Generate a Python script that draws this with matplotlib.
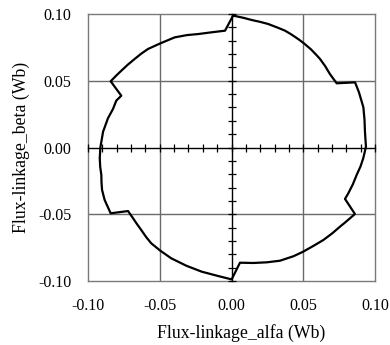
import matplotlib
matplotlib.use("Agg")
import matplotlib.pyplot as plt

# Flux trajectory (clockwise from the top)
flux_alfa = [0.0011, 0.0085, 0.0141, 0.0200, 0.0256, 0.0326, 0.0373, 0.0414, 0.0468,
             0.0505, 0.0554, 0.0597, 0.0617, 0.0653, 0.0686, 0.0733,
             0.0861, 0.0888, 0.0904, 0.0919, 0.0927, 0.0930, 0.0937, 0.0918, 0.0899,
             0.0872, 0.0846, 0.0814, 0.0791,
             0.0860, 0.0826, 0.0790, 0.0756, 0.0702, 0.0640, 0.0574, 0.0500, 0.0433,
             0.0338, 0.0247, 0.0152, 0.0059,
             0.0001, -0.0092, -0.0208, -0.0314, -0.0420, -0.0496, -0.0559, -0.0594,
             -0.0629, -0.0659, -0.0686, -0.0721,
             -0.0842, -0.0884, -0.0902, -0.0906, -0.0907, -0.0915, -0.0918, -0.0914,
             -0.0895, -0.0861, -0.0826, -0.0803, -0.0768,
             -0.0842, -0.0805, -0.0768, -0.0722, -0.0675, -0.0630, -0.0582, -0.0496,
             -0.0396, -0.0310, -0.0231, -0.0138, -0.0045, 0.0011]
flux_beta = [0.0988, 0.0971, 0.0955, 0.0941, 0.0925, 0.0896, 0.0875, 0.0849, 0.0810,
             0.0780, 0.0735, 0.0687, 0.0663, 0.0609, 0.0550, 0.0481,
             0.0488, 0.0414, 0.0356, 0.0301, 0.0206, 0.0118, 0.0006, -0.0081, -0.0142,
             -0.0206, -0.0275, -0.0343, -0.0385,
             -0.0498, -0.0530, -0.0563, -0.0593, -0.0643, -0.0693, -0.0735, -0.0780,
             -0.0814, -0.0848, -0.0860, -0.0865, -0.0863,
             -0.0988, -0.0963, -0.0930, -0.0886, -0.0830, -0.0773, -0.0718, -0.0672,
             -0.0618, -0.0573, -0.0530, -0.0476,
             -0.0493, -0.0393, -0.0318, -0.0260, -0.0206, -0.0145, -0.0081, -0.0001,
             0.0118, 0.0219, 0.0288, 0.0351, 0.0388,
             0.0496, 0.0537, 0.0575, 0.0621, 0.0663, 0.0702, 0.0738, 0.0780,
             0.0825, 0.0842, 0.0850, 0.0863, 0.0875, 0.0988]

major_ticks = [-0.10, -0.05, 0.00, 0.05, 0.10]
tick_labels = ["-0.10", "-0.05", "0.00", "0.05", "0.10"]
minor_ticks = [round(-0.10 + 0.01 * i, 2) for i in range(21)]

plt.rcParams['font.family'] = ['Liberation Serif', 'DejaVu Serif']

fig = plt.figure(figsize=(3.9, 3.45), dpi=100)
pos = [88 / 390, 1 - 281 / 345, (375 - 88) / 390, (281 - 14) / 345]
ax = fig.add_axes(pos)
ax.set_xlim(-0.1, 0.1)
ax.set_ylim(-0.1, 0.1)
ax.set_xticks(major_ticks)
ax.set_xticklabels(tick_labels)
ax.set_yticks(major_ticks)
ax.set_yticklabels(tick_labels)
ax.tick_params(length=0, labelsize=11.5, pad=12)
for s in ax.spines.values():
    s.set_color('#7a7a7a')
    s.set_linewidth(1.0)
for v in (-0.05, 0.05):
    ax.axvline(v, color='#6a6a6a', lw=1.0, zorder=1)
    ax.axhline(v, color='#6a6a6a', lw=1.0, zorder=1)

# center axes with crossing ticks
ax2 = fig.add_axes(pos, facecolor='none')
ax2.set_xlim(-0.1, 0.1)
ax2.set_ylim(-0.1, 0.1)
ax2.spines['left'].set_position(('data', 0))
ax2.spines['bottom'].set_position(('data', 0))
ax2.spines['right'].set_visible(False)
ax2.spines['top'].set_visible(False)
for k in ('left', 'bottom'):
    ax2.spines[k].set_color('black')
    ax2.spines[k].set_linewidth(1.0)
ax2.set_xticks(minor_ticks)
ax2.set_yticks(minor_ticks)
ax2.set_xticklabels([])
ax2.set_yticklabels([])
ax2.tick_params(direction='inout', length=6, width=0.9, color='black')

ax2.plot(flux_alfa, flux_beta, color='black', lw=1.6, solid_joinstyle='round', zorder=5)

fig.text(241 / 390, 1 - 338 / 345, 'Flux-linkage_alfa (Wb)', ha='center', va='baseline',
         fontsize=12.8)
fig.text(21 / 390, 1 - 147 / 345, 'Flux-linkage_beta (Wb)', ha='center', va='center',
         fontsize=12.8, rotation=90)

fig.savefig('out.png', dpi=100)
